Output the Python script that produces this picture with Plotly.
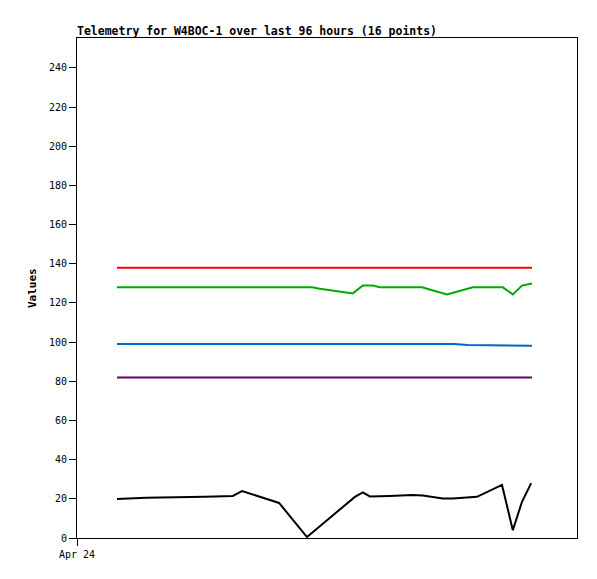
import plotly.graph_objects as go

DAY = "2024-04-24 "

# Series data (time of day on Apr 24, value)
black_t = ["01:36", "02:46", "05:07", "06:14", "06:36", "08:05", "09:12", "11:07", "11:26", "11:43",
           "12:31", "13:24", "13:50", "14:38", "15:02", "16:00", "17:00", "17:26", "17:48", "18:10"]
black_v = [19.9, 20.6, 21.1, 21.5, 24.0, 17.9, 0.5, 21.0, 23.3, 21.2,
           21.5, 22.0, 21.7, 20.2, 20.2, 21.0, 27.1, 4.0, 18.5, 28.0]

green_t = ["01:36", "09:24", "09:43", "10:07", "10:31", "10:55", "11:02", "11:26", "11:50", "12:07",
           "13:48", "14:48", "15:50", "17:02", "17:26", "17:48", "18:12"]
green_v = [128.0, 128.0, 127.3, 126.5, 125.8, 125.2, 124.9, 128.9, 128.9, 128.0,
           128.0, 124.4, 128.0, 128.0, 124.4, 128.9, 129.9]

blue_t = ["01:36", "15:05", "15:38", "18:12"]
blue_v = [99.1, 99.1, 98.6, 98.1]

red_t = ["01:36", "18:12"]
red_v = [138.0, 138.0]

purple_t = ["01:36", "18:12"]
purple_v = [82.0, 82.0]

y_ticks = list(range(0, 241, 20))
x_tick_vals = ["2024-04-24 00:00"]
x_tick_text = ["Apr 24"]

series = [
    (red_t, red_v, "#ff0000"),
    (green_t, green_v, "#00aa00"),
    (blue_t, blue_v, "#0066cc"),
    (purple_t, purple_v, "#660066"),
    (black_t, black_v, "#000000"),
]

fig = go.Figure()
for t, v, c in series:
    fig.add_trace(go.Scatter(x=[DAY + s for s in t], y=v, mode="lines",
                             line=dict(color=c, width=2), showlegend=False))

mono = "DejaVu Sans Mono"
W, H = 589, 571
fig.update_layout(
    width=W, height=H,
    margin=dict(l=69, r=20, t=30, b=41),
    paper_bgcolor="white", plot_bgcolor="white",
    title=dict(text="<b>Telemetry for W4BOC-1 over last 96 hours (16 points)</b>",
               x=69 / W, xanchor="left", xref="container",
               y=1 - 23 / H, yanchor="middle", yref="container",
               font=dict(family=mono, size=11.5, color="black")),
    xaxis=dict(type="date", range=["2024-04-24 00:00", "2024-04-24 20:00"],
               tickvals=x_tick_vals, ticktext=x_tick_text,
               showgrid=False, zeroline=False, showline=True, linecolor="black", linewidth=1,
               mirror=True, ticks="outside", ticklen=7, tickcolor="black",
               tickfont=dict(family=mono, size=10, color="black")),
    yaxis=dict(range=[0, 255.3], tickvals=y_ticks,
               showgrid=False, zeroline=False, showline=True, linecolor="black", linewidth=1,
               mirror=True, ticks="outside", ticklen=7, tickcolor="black",
               tickfont=dict(family=mono, size=10, color="black")),
    annotations=[dict(text="<b>Values</b>", x=0, y=0.5, xref="paper", yref="paper",
                      xanchor="center", yanchor="middle", xshift=-45, textangle=-90,
                      showarrow=False, font=dict(family=mono, size=11, color="black"))],
)

fig.write_html("out.html")
